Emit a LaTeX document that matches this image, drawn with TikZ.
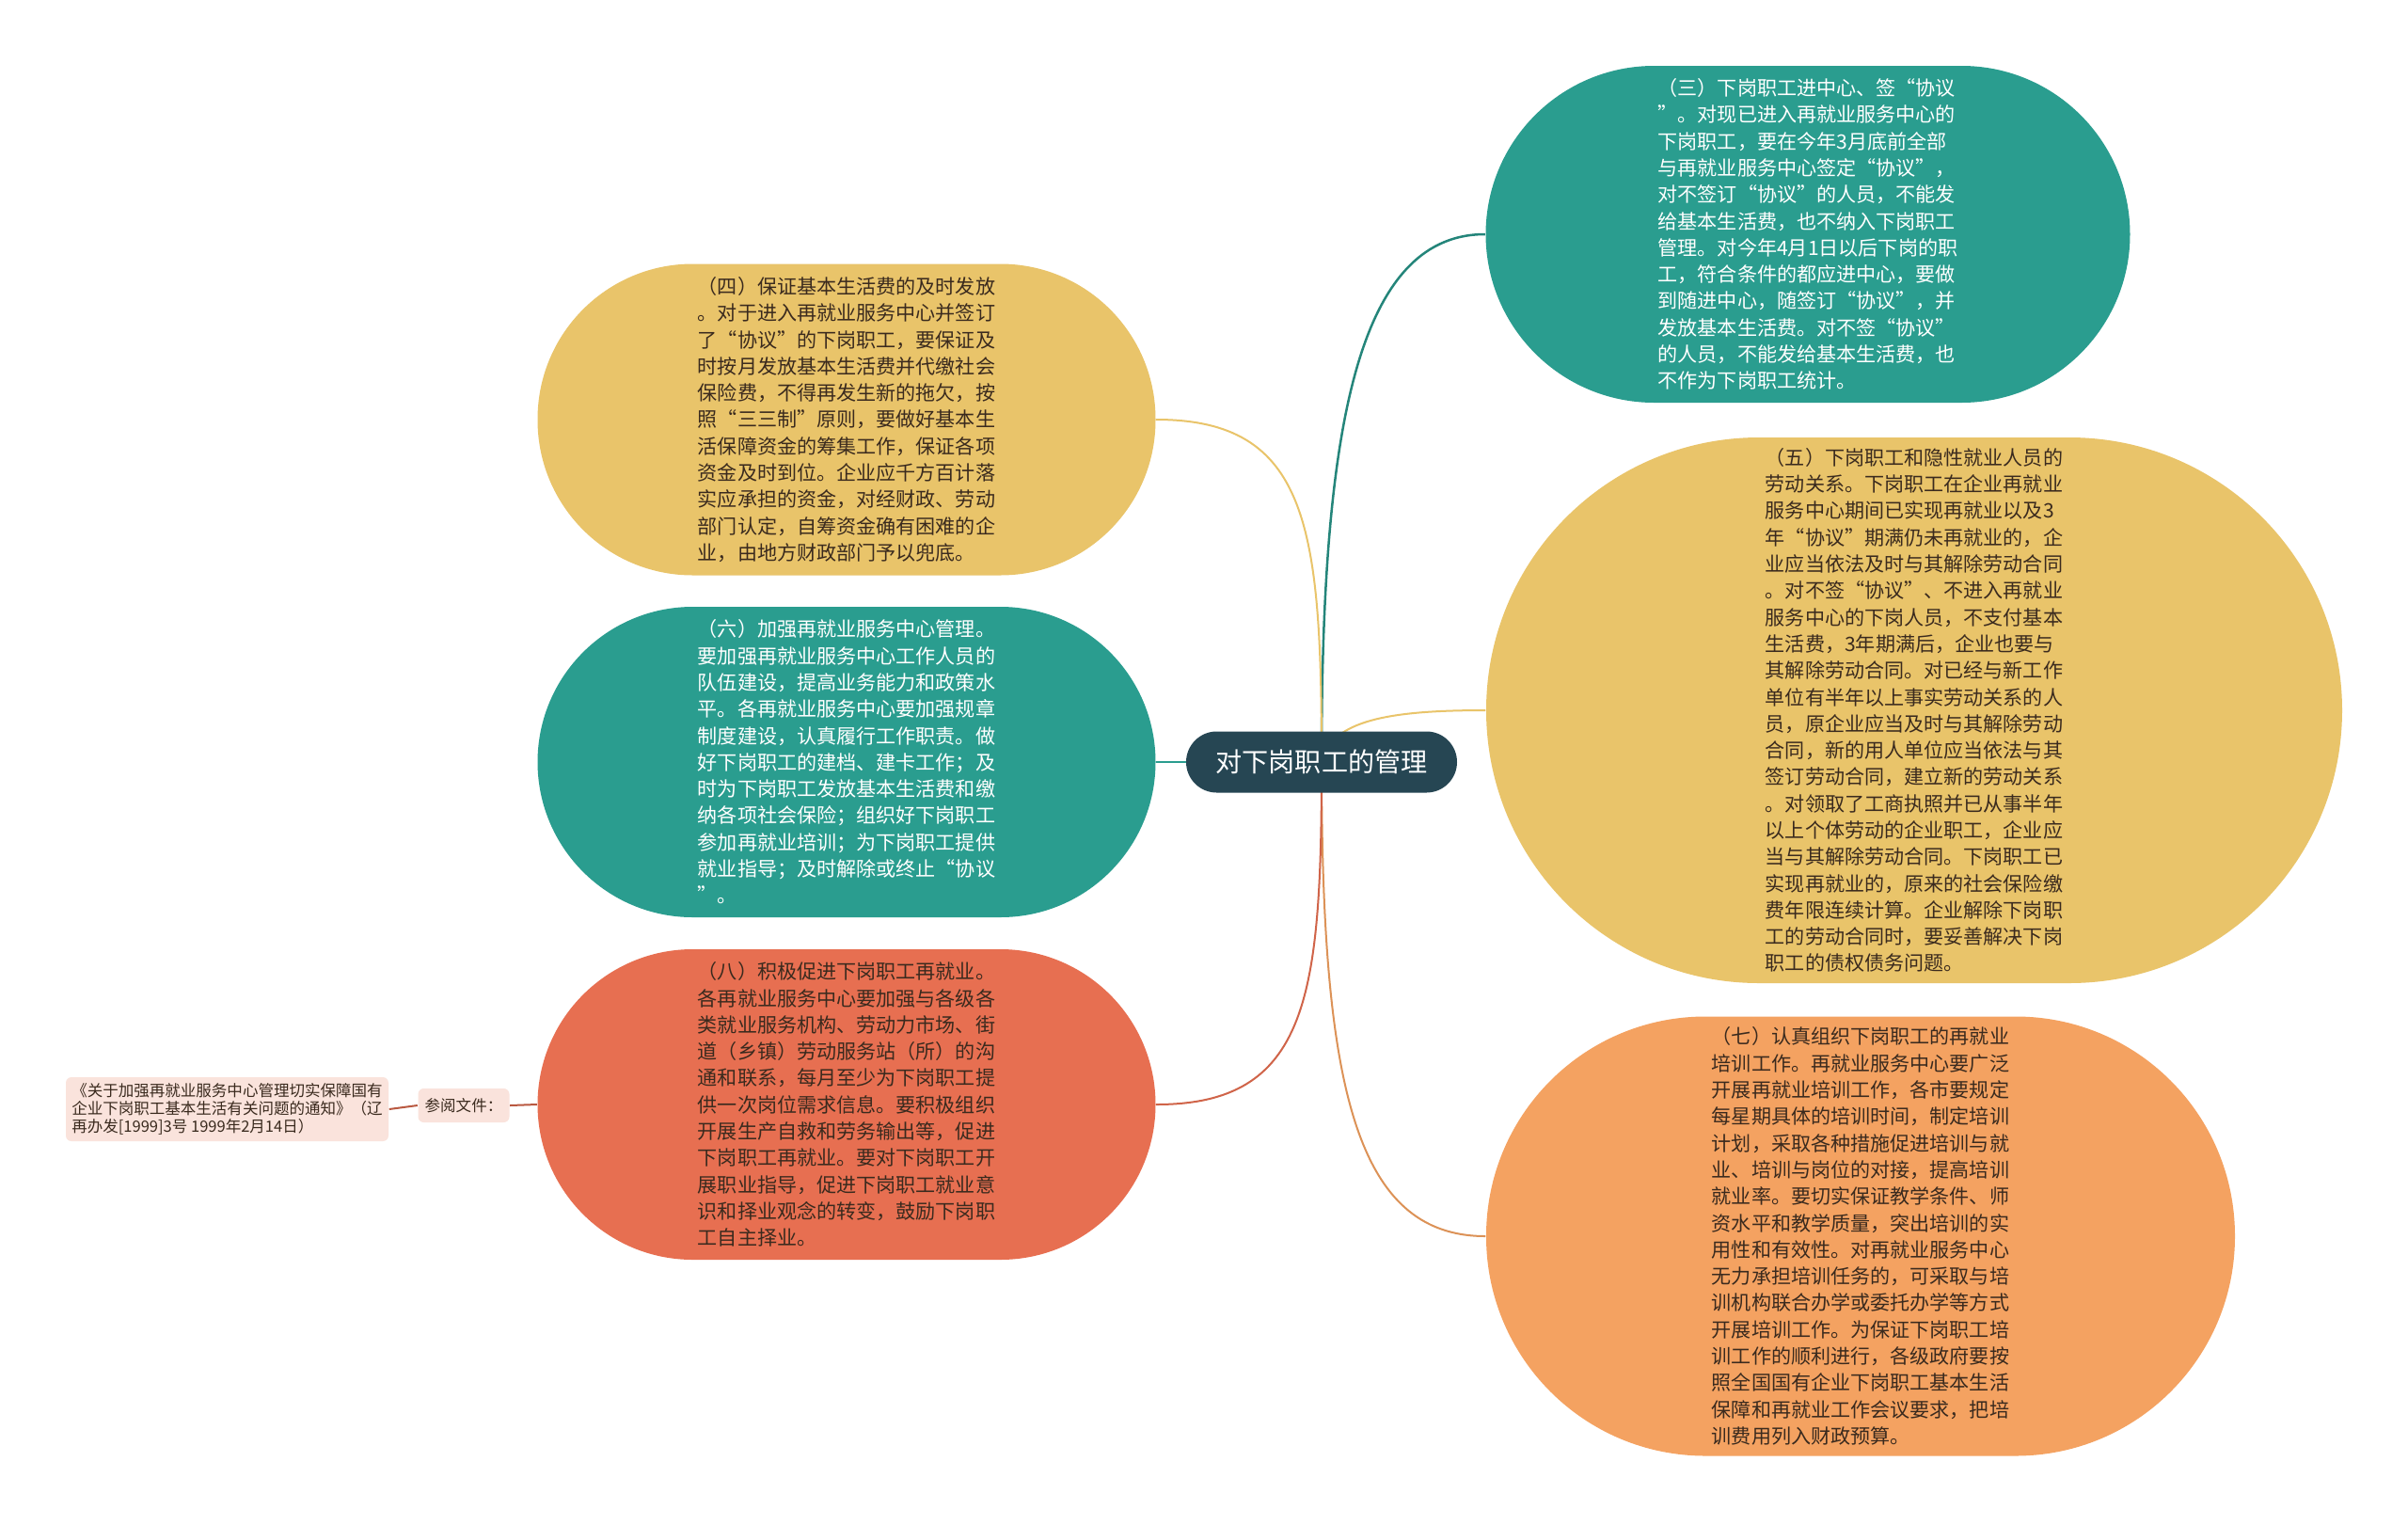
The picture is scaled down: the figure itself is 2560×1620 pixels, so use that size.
\documentclass[tikz,border=0pt]{standalone}
\usepackage{fontspec}
\setmainfont{Noto Sans CJK SC}
\usetikzlibrary{backgrounds}
\definecolor{hubc}{HTML}{264653}
\definecolor{tealc}{HTML}{2A9D8F}
\definecolor{sandc}{HTML}{E9C46A}
\definecolor{peachc}{HTML}{F4A261}
\definecolor{brickc}{HTML}{E76F51}
\definecolor{pinkc}{HTML}{FAE3DC}
\definecolor{inkc}{HTML}{3A2A1E}
\tikzset{
  bubble/.style={align=left,inner sep=0pt,text=inkc,font=\fontsize{6}{8.05}\selectfont},
  tag/.style={fill=pinkc,align=left,inner sep=0pt,rounded corners=0.6mm,text=inkc,font=\fontsize{4.7}{5.3}\selectfont},
  link/.style={line width=0.2mm}
}
\begin{document}
\begin{tikzpicture}[x=0.1mm,y=-0.1mm]
\useasboundingbox (0,0) rectangle (2560,1620);
\node[fill=hubc,text=white,rounded corners=3.25mm,minimum width=28.8mm,minimum height=6.5mm,
  font=\fontsize{8}{9.6}\selectfont] (hub) at (1405,810) {对下岗职工的管理};
% right side
\node[bubble,fill=tealc,text=white,minimum width=68.5mm,minimum height=35.8mm,rounded corners=17.9mm]
  (san) at (1922,249) {（三）下岗职工进中心、签“协议\\”。对现已进入再就业服务中心的\\下岗职工，要在今年3月底前全部\\与再就业服务中心签定“协议”，\\对不签订“协议”的人员，不能发\\给基本生活费，也不纳入下岗职工\\管理。对今年4月1日以后下岗的职\\工，符合条件的都应进中心，要做\\到随进中心，随签订“协议”，并\\发放基本生活费。对不签“协议”\\的人员，不能发给基本生活费，也\\不作为下岗职工统计。};
\node[bubble,fill=sandc,minimum width=91mm,minimum height=58mm,rounded corners=29mm]
  (wu) at (2035,755) {（五）下岗职工和隐性就业人员的\\劳动关系。下岗职工在企业再就业\\服务中心期间已实现再就业以及3\\年“协议”期满仍未再就业的，企\\业应当依法及时与其解除劳动合同\\。对不签“协议”、不进入再就业\\服务中心的下岗人员，不支付基本\\生活费，3年期满后，企业也要与\\其解除劳动合同。对已经与新工作\\单位有半年以上事实劳动关系的人\\员，原企业应当及时与其解除劳动\\合同，新的用人单位应当依法与其\\签订劳动合同，建立新的劳动关系\\。对领取了工商执照并已从事半年\\以上个体劳动的企业职工，企业应\\当与其解除劳动合同。下岗职工已\\实现再就业的，原来的社会保险缴\\费年限连续计算。企业解除下岗职\\工的劳动合同时，要妥善解决下岗\\职工的债权债务问题。};
\node[bubble,fill=peachc,minimum width=79.6mm,minimum height=46.7mm,rounded corners=23.3mm]
  (qi) at (1978,1314) {（七）认真组织下岗职工的再就业\\培训工作。再就业服务中心要广泛\\开展再就业培训工作，各市要规定\\每星期具体的培训时间，制定培训\\计划，采取各种措施促进培训与就\\业、培训与岗位的对接，提高培训\\就业率。要切实保证教学条件、师\\资水平和教学质量，突出培训的实\\用性和有效性。对再就业服务中心\\无力承担培训任务的，可采取与培\\训机构联合办学或委托办学等方式\\开展培训工作。为保证下岗职工培\\训工作的顺利进行，各级政府要按\\照全国国有企业下岗职工基本生活\\保障和再就业工作会议要求，把培\\训费用列入财政预算。};
% left side
\node[bubble,fill=sandc,minimum width=65.7mm,minimum height=33.1mm,rounded corners=16.5mm]
  (si) at (900,446) {（四）保证基本生活费的及时发放\\。对于进入再就业服务中心并签订\\了“协议”的下岗职工，要保证及\\时按月发放基本生活费并代缴社会\\保险费，不得再发生新的拖欠，按\\照“三三制”原则，要做好基本生\\活保障资金的筹集工作，保证各项\\资金及时到位。企业应千方百计落\\实应承担的资金，对经财政、劳动\\部门认定，自筹资金确有困难的企\\业，由地方财政部门予以兜底。};
\node[bubble,fill=tealc,text=white,minimum width=65.7mm,minimum height=33mm,rounded corners=16.5mm]
  (liu) at (900,810) {（六）加强再就业服务中心管理。\\要加强再就业服务中心工作人员的\\队伍建设，提高业务能力和政策水\\平。各再就业服务中心要加强规章\\制度建设，认真履行工作职责。做\\好下岗职工的建档、建卡工作；及\\时为下岗职工发放基本生活费和缴\\纳各项社会保险；组织好下岗职工\\参加再就业培训；为下岗职工提供\\就业指导；及时解除或终止“协议\\”。};
\node[bubble,fill=brickc,minimum width=65.7mm,minimum height=33mm,rounded corners=16.5mm]
  (ba) at (900,1174) {（八）积极促进下岗职工再就业。\\各再就业服务中心要加强与各级各\\类就业服务机构、劳动力市场、街\\道（乡镇）劳动服务站（所）的沟\\通和联系，每月至少为下岗职工提\\供一次岗位需求信息。要积极组织\\开展生产自救和劳务输出等，促进\\下岗职工再就业。要对下岗职工开\\展职业指导，促进下岗职工就业意\\识和择业观念的转变，鼓励下岗职\\工自主择业。};
\node[tag,minimum width=9.7mm,minimum height=3.6mm] (cankao) at (493,1175) {参阅文件：};
\node[tag,minimum width=34.3mm,minimum height=6.8mm] (wenjian) at (241.5,1179)
  {《关于加强再就业服务中心管理切实保障国有\\企业下岗职工基本生活有关问题的通知》（辽\\再办发[1999]3号 1999年2月14日）};
\begin{scope}[on background layer]
\fill[white] (0,0) rectangle (2560,1620);
\draw[link,tealc!85!black,line width=0.25mm] (hub.center) .. controls +(0,-340) and +(-140,0) .. (san.west);
\draw[link,sandc] (hub.center) .. controls +(10,-45) and +(-100,0) .. (wu.west);
\draw[link,peachc!90!black] (hub.center) .. controls +(0,340) and +(-140,0) .. (qi.west);
\draw[link,sandc] (hub.center) .. controls +(0,-250) and +(162,0) .. (si.east);
\draw[link,tealc] (hub.center) -- (liu.east);
\draw[link,brickc!90!black] (hub.center) .. controls +(0,250) and +(162,0) .. (ba.east);
\draw[link,brickc!80!black] (ba.west) -- (cankao.east);
\draw[link,brickc!80!black] (cankao.west) -- (wenjian.east);
\end{scope}
\end{tikzpicture}
\end{document}
